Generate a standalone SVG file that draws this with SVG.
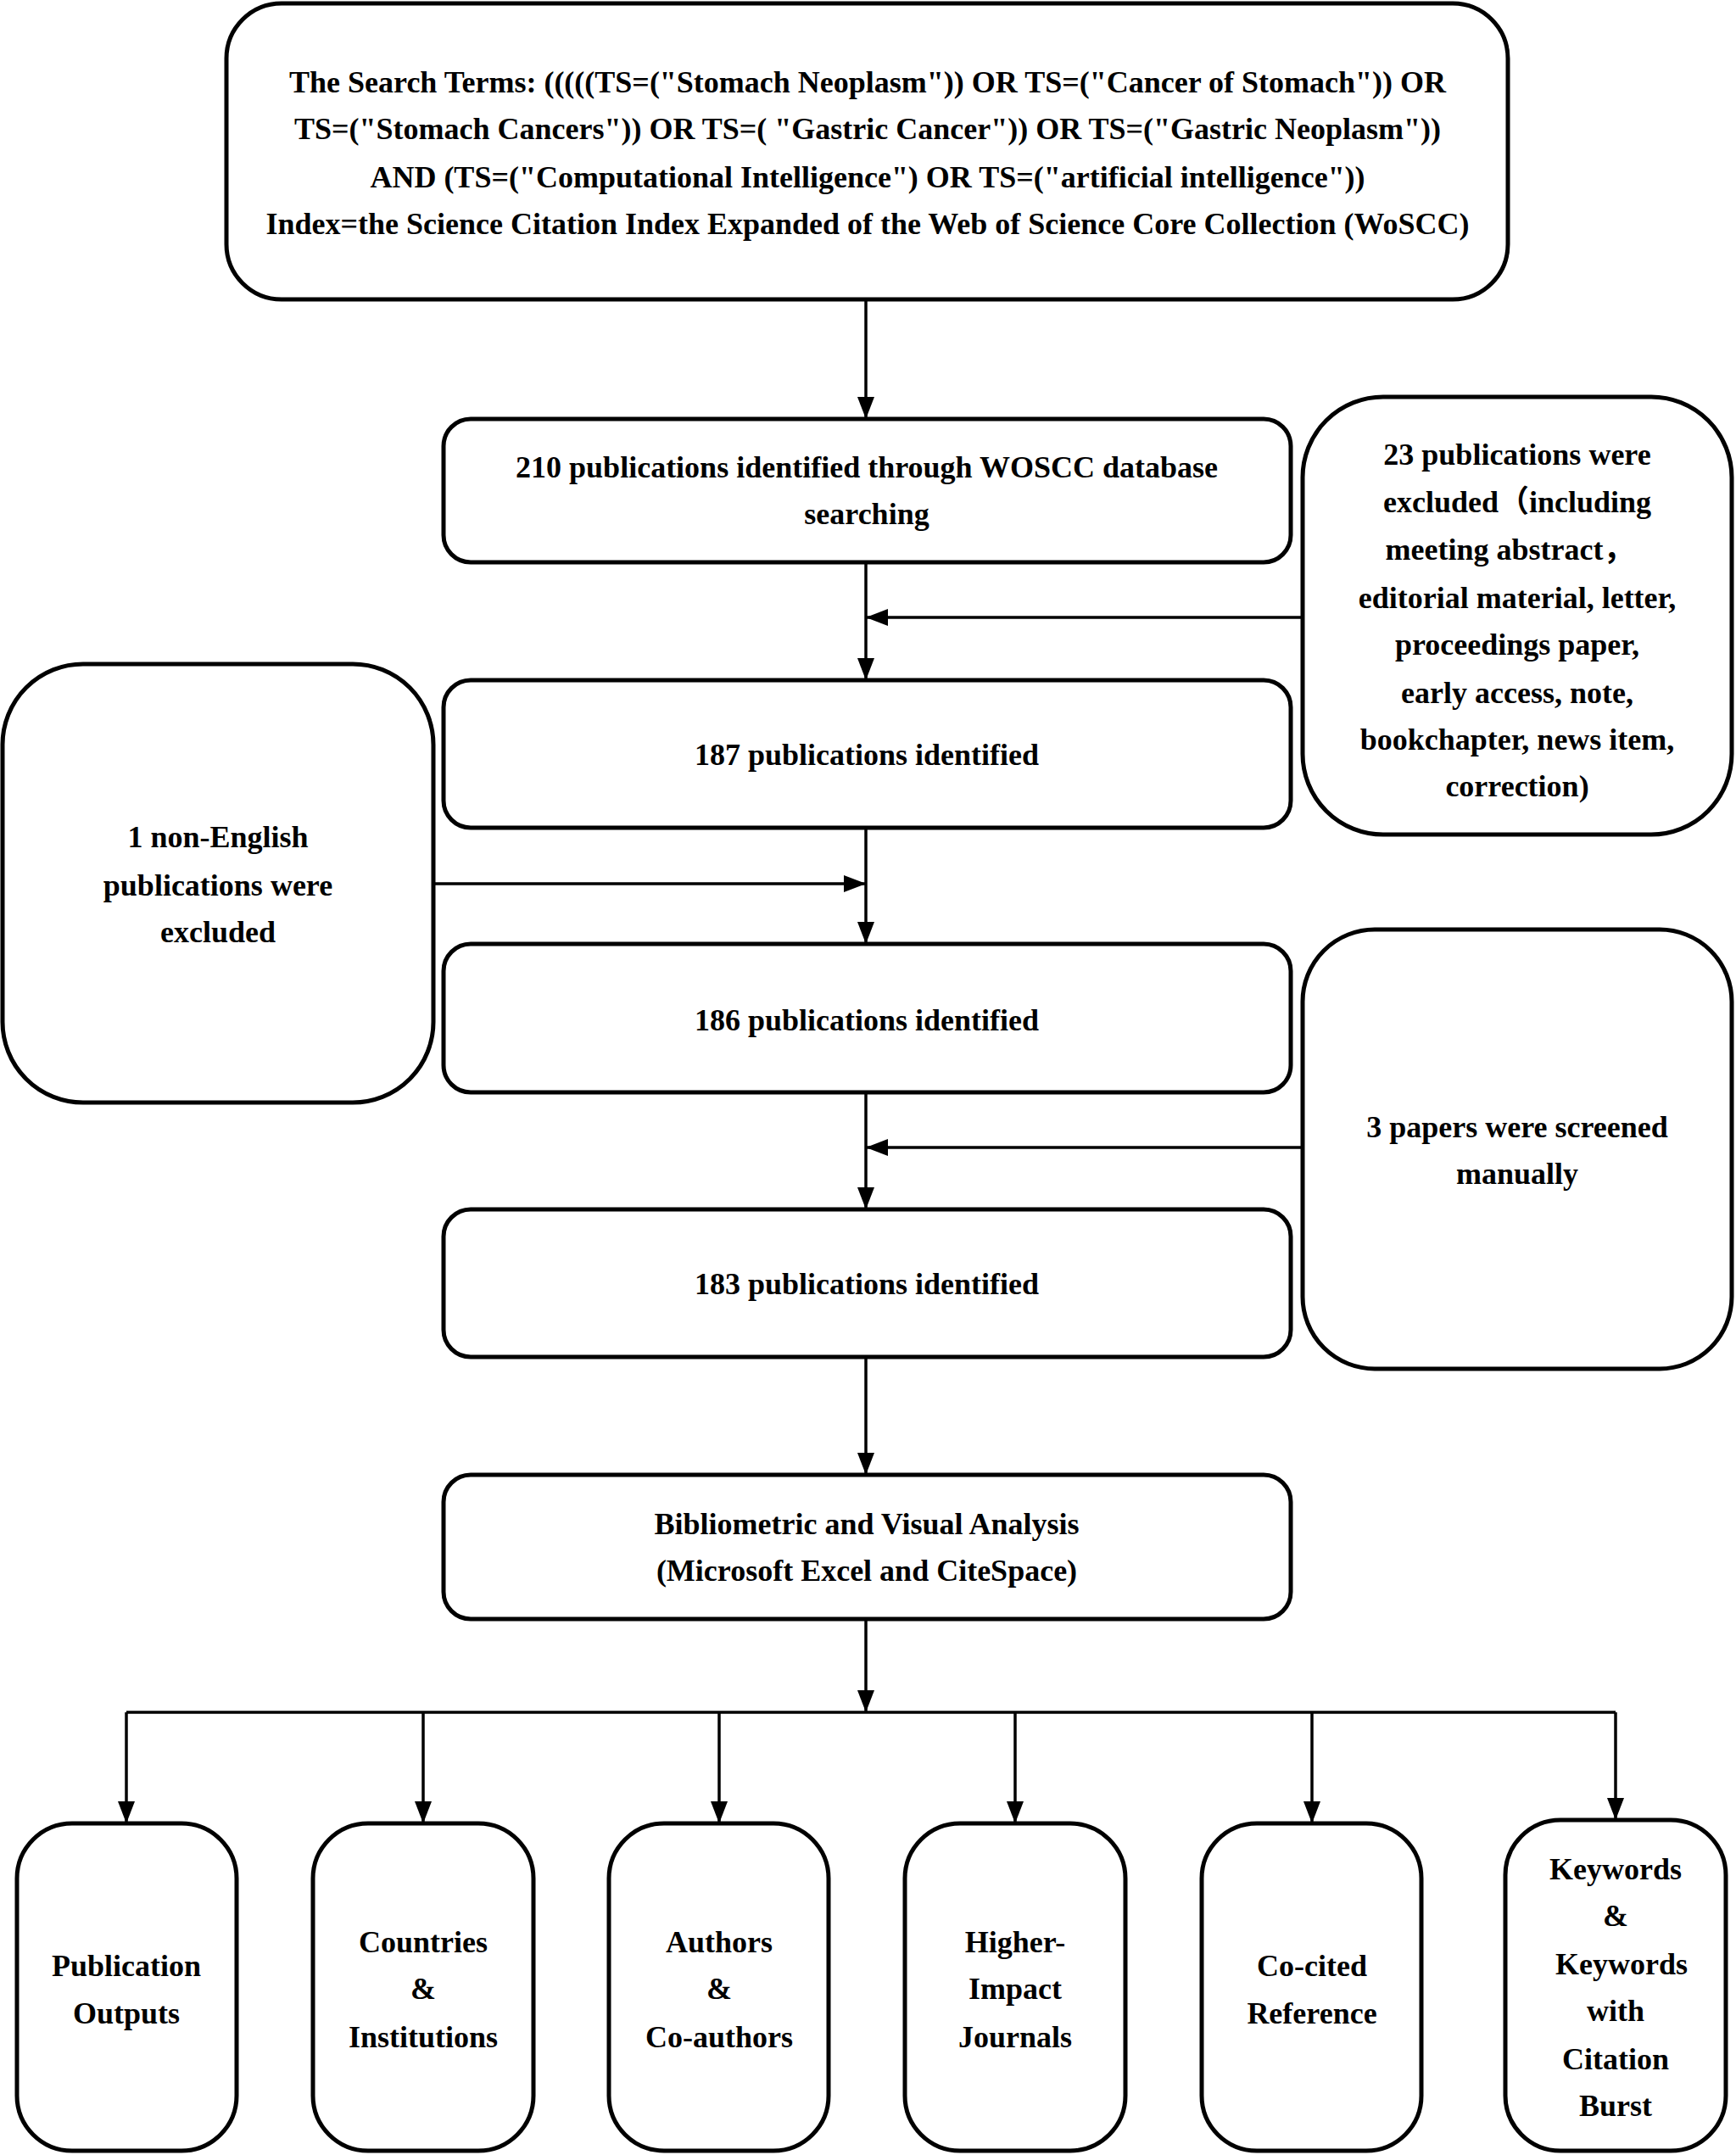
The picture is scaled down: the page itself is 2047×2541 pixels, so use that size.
<svg xmlns="http://www.w3.org/2000/svg" width="2047" height="2541" viewBox="0 0 2047 2541">
<style>
.box{fill:#fff;stroke:#000;stroke-width:5}
.t{font-family:"Liberation Serif","Times New Roman","Noto Sans CJK SC",serif;font-weight:bold;font-size:36px;fill:#000;text-anchor:middle}
.c{fill:none;stroke:#000;stroke-width:3.5}
</style>
<defs>
<marker id="ah" markerUnits="userSpaceOnUse" markerWidth="28" markerHeight="22" refX="26" refY="10" orient="auto">
<path d="M0,0 L26,10 L0,20 z" fill="#000"/>
</marker>
</defs>
<rect width="2047" height="2541" fill="#fff"/>
<g id="connectors">
<line class="c" x1="1021" y1="353" x2="1021" y2="494" marker-end="url(#ah)"/>
<line class="c" x1="1021" y1="663" x2="1021" y2="802" marker-end="url(#ah)"/>
<line class="c" x1="1536" y1="728" x2="1021" y2="728" marker-end="url(#ah)"/>
<line class="c" x1="1021" y1="976" x2="1021" y2="1113" marker-end="url(#ah)"/>
<line class="c" x1="511" y1="1042" x2="1021" y2="1042" marker-end="url(#ah)"/>
<line class="c" x1="1021" y1="1288" x2="1021" y2="1426" marker-end="url(#ah)"/>
<line class="c" x1="1536" y1="1353" x2="1021" y2="1353" marker-end="url(#ah)"/>
<line class="c" x1="1021" y1="1600" x2="1021" y2="1739" marker-end="url(#ah)"/>
<line class="c" x1="1021" y1="1909" x2="1021" y2="2019" marker-end="url(#ah)"/>
<line class="c" x1="149" y1="2019" x2="1905" y2="2019"/>
<line class="c" x1="149" y1="2019" x2="149" y2="2150" marker-end="url(#ah)"/>
<line class="c" x1="499" y1="2019" x2="499" y2="2150" marker-end="url(#ah)"/>
<line class="c" x1="848" y1="2019" x2="848" y2="2150" marker-end="url(#ah)"/>
<line class="c" x1="1197" y1="2019" x2="1197" y2="2150" marker-end="url(#ah)"/>
<line class="c" x1="1547" y1="2019" x2="1547" y2="2150" marker-end="url(#ah)"/>
<line class="c" x1="1905" y1="2019" x2="1905" y2="2146" marker-end="url(#ah)"/>
</g>
<g id="search">
<rect class="box" x="267" y="4" width="1511" height="349" rx="65" ry="65"/>
<text class="t" x="1023" y="109">The Search Terms: (((((TS=("Stomach Neoplasm")) OR TS=("Cancer of Stomach")) OR</text>
<text class="t" x="1023" y="164">TS=("Stomach Cancers")) OR TS=( "Gastric Cancer")) OR TS=("Gastric Neoplasm"))</text>
<text class="t" x="1023" y="221">AND (TS=("Computational Intelligence") OR TS=("artificial intelligence"))</text>
<text class="t" x="1023" y="276">Index=the Science Citation Index Expanded of the Web of Science Core Collection (WoSCC)</text>
</g>
<g id="n210">
<rect class="box" x="523" y="494" width="999" height="169" rx="32" ry="32"/>
<text class="t" x="1022" y="563">210 publications identified through WOSCC database</text>
<text class="t" x="1022" y="618">searching</text>
</g>
<g id="excl23">
<rect class="box" x="1536" y="468" width="506" height="516" rx="95" ry="95"/>
<text class="t" x="1789" y="548">23 publications were</text>
<text class="t" x="1789" y="604">excluded（including</text>
<text class="t" x="1780" y="660">meeting abstract，</text>
<text class="t" x="1789" y="717">editorial material, letter,</text>
<text class="t" x="1789" y="772">proceedings paper,</text>
<text class="t" x="1789" y="829">early access, note,</text>
<text class="t" x="1789" y="884">bookchapter, news item,</text>
<text class="t" x="1789" y="939">correction)</text>
</g>
<g id="n187">
<rect class="box" x="523" y="802" width="999" height="174" rx="32" ry="32"/>
<text class="t" x="1022" y="902">187 publications identified</text>
</g>
<g id="excl1">
<rect class="box" x="3" y="783" width="508" height="517" rx="95" ry="95"/>
<text class="t" x="257" y="999">1 non-English</text>
<text class="t" x="257" y="1056">publications were</text>
<text class="t" x="257" y="1111">excluded</text>
</g>
<g id="n186">
<rect class="box" x="523" y="1113" width="999" height="175" rx="32" ry="32"/>
<text class="t" x="1022" y="1215">186 publications identified</text>
</g>
<g id="excl3">
<rect class="box" x="1536" y="1096" width="506" height="518" rx="85" ry="85"/>
<text class="t" x="1789" y="1341">3 papers were screened</text>
<text class="t" x="1789" y="1396">manually</text>
</g>
<g id="n183">
<rect class="box" x="523" y="1426" width="999" height="174" rx="32" ry="32"/>
<text class="t" x="1022" y="1526">183 publications identified</text>
</g>
<g id="biblio">
<rect class="box" x="523" y="1739" width="999" height="170" rx="32" ry="32"/>
<text class="t" x="1022" y="1809">Bibliometric and Visual Analysis</text>
<text class="t" x="1022" y="1864">(Microsoft Excel and CiteSpace)</text>
</g>
<g id="out1">
<rect class="box" x="20" y="2150" width="259" height="386" rx="65" ry="65"/>
<text class="t" x="149" y="2330">Publication</text>
<text class="t" x="149" y="2386">Outputs</text>
</g>
<g id="out2">
<rect class="box" x="369" y="2150" width="260" height="386" rx="65" ry="65"/>
<text class="t" x="499" y="2302">Countries</text>
<text class="t" x="499" y="2357">&amp;</text>
<text class="t" x="499" y="2414">Institutions</text>
</g>
<g id="out3">
<rect class="box" x="718" y="2150" width="259" height="386" rx="65" ry="65"/>
<text class="t" x="848" y="2302">Authors</text>
<text class="t" x="848" y="2357">&amp;</text>
<text class="t" x="848" y="2414">Co-authors</text>
</g>
<g id="out4">
<rect class="box" x="1067" y="2150" width="260" height="386" rx="65" ry="65"/>
<text class="t" x="1197" y="2302">Higher-</text>
<text class="t" x="1197" y="2357">Impact</text>
<text class="t" x="1197" y="2414">Journals</text>
</g>
<g id="out5">
<rect class="box" x="1417" y="2150" width="259" height="386" rx="65" ry="65"/>
<text class="t" x="1547" y="2330">Co-cited</text>
<text class="t" x="1547" y="2386">Reference</text>
</g>
<g id="out6">
<rect class="box" x="1775" y="2146" width="260" height="390" rx="65" ry="65"/>
<text class="t" x="1905" y="2216">Keywords</text>
<text class="t" x="1905" y="2271">&amp;</text>
<text class="t" x="1912" y="2328">Keywords</text>
<text class="t" x="1905" y="2383">with</text>
<text class="t" x="1905" y="2440">Citation</text>
<text class="t" x="1905" y="2495">Burst</text>
</g>
</svg>
